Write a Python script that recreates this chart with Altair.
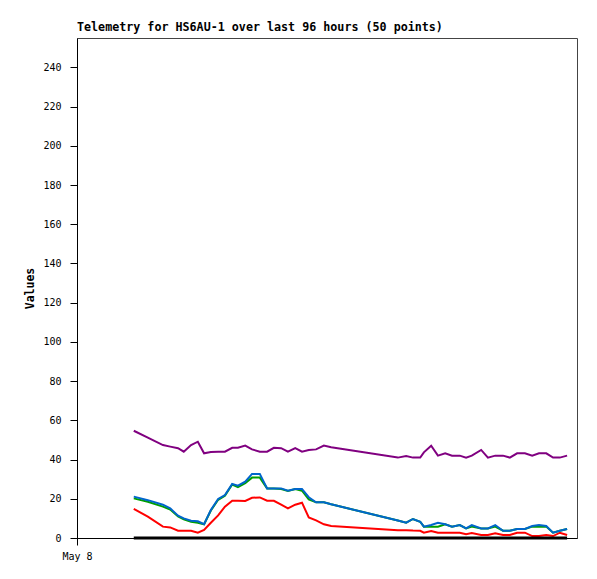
import altair as alt
import pandas as pd

# hours since May 8 00:00
hours = [10.9, 13.6, 16.5, 17.9, 19.4, 20.5, 21.9, 23.2, 24.4, 25.7, 27.1, 28.4, 29.8,
         30.9, 32.3, 33.6, 35.1, 36.5, 37.8, 39.2, 40.5, 41.9, 43.2, 44.5, 45.9, 47.4,
         48.8, 61.6, 63.2, 64.5, 65.9, 66.6, 68.0, 69.3, 70.7, 72.0, 73.5, 74.7, 75.8,
         77.6, 78.9, 80.3, 81.8, 83.1, 84.5, 86.0, 87.4, 88.7, 90.1, 91.4, 92.7, 94.1]

purple = [54.7, 51.2, 47.4, 46.6, 45.8, 44.0, 47.4, 49.1, 43.2, 43.8, 44.0, 44.0, 46.0,
          46.0, 47.1, 45.2, 44.0, 44.0, 46.0, 45.8, 44.0, 45.8, 44.0, 44.9, 45.2, 47.1,
          46.3, 41.0, 41.8, 41.0, 41.0, 43.7, 47.1, 42.0, 43.2, 42.0, 42.0, 41.0, 42.0,
          44.9, 41.0, 42.0, 42.0, 41.0, 43.2, 43.2, 42.0, 43.2, 43.2, 41.0, 41.0, 42.0]

red = [14.8, 10.9, 5.8, 5.4, 3.7, 3.7, 3.7, 2.7, 4.1, 7.8, 11.5, 16.0, 19.0,
       19.0, 18.9, 20.5, 20.7, 19.0, 19.0, 17.0, 15.1, 17.0, 18.0, 10.5, 9.0, 7.0,
       6.1, 4.0, 4.0, 3.8, 3.7, 2.7, 3.6, 2.7, 2.7, 2.7, 2.7, 1.9, 2.5,
       1.5, 1.5, 2.4, 1.5, 1.5, 2.7, 2.7, 1.0, 1.0, 1.5, 1.0, 2.7, 1.5]

green = [20.2, 18.5, 16.0, 14.5, 11.0, 9.5, 8.3, 7.8, 7.0, 14.0, 19.5, 21.5, 27.3,
         26.0, 28.0, 30.8, 30.8, 25.3, 25.3, 25.0, 24.0, 25.0, 24.1, 19.7, 18.2, 18.2,
         17.2, 8.9, 7.8, 9.7, 8.3, 5.8, 5.8, 5.8, 7.0, 5.8, 6.6, 4.9, 5.8,
         4.9, 4.9, 5.8, 3.7, 3.7, 4.6, 4.6, 5.8, 5.8, 5.8, 2.7, 3.7, 4.6]

blue = [21.1, 19.3, 17.0, 15.1, 11.4, 10.0, 8.8, 8.5, 7.0, 14.3, 19.9, 21.9, 27.6,
        26.7, 28.7, 32.7, 32.7, 25.3, 25.3, 25.3, 24.1, 25.0, 25.0, 20.8, 18.2, 18.2,
        17.2, 8.9, 7.8, 9.7, 8.3, 5.8, 6.6, 7.8, 7.0, 5.8, 6.6, 4.9, 6.6,
        4.9, 4.9, 6.6, 3.7, 3.7, 4.6, 4.6, 6.1, 6.6, 6.1, 2.7, 3.7, 4.6]

black = [0.0] * len(hours)

y_ticks = [0, 20, 40, 60, 80, 100, 120, 140, 160, 180, 200, 220, 240]
x_ticks = [0]
x_tick_label = "May 8"

df = pd.DataFrame({"hours": hours, "purple": purple, "red": red, "green": green,
                   "blue": blue, "black": black})

FONT = "DejaVu Sans Mono"

x_enc = alt.X("hours:Q",
              scale=alt.Scale(domain=[0, 96], nice=False, zero=False),
              axis=alt.Axis(values=x_ticks, labelExpr=f"'{x_tick_label}'", title=None,
                            tickSize=7, labelPadding=6, grid=False, labelFlush=False,
                            domainColor="black", tickColor="black",
                            labelFont=FONT, labelFontSize=10, labelColor="black"))

y_scale = alt.Scale(domain=[0, 255], nice=False)
y_axis = alt.Axis(values=y_ticks, title="Values", tickSize=7, labelPadding=9, grid=False,
                  domainColor="black", tickColor="black",
                  labelFont=FONT, labelFontSize=10, labelColor="black",
                  titleFont=FONT, titleFontSize=11.5, titleFontWeight="bold",
                  titleColor="black", titlePadding=7)

colors = [("purple", "#800080", 2), ("red", "#ff0000", 2), ("green", "#00a000", 2),
          ("blue", "#0066cc", 2), ("black", "#000000", 3)]

layers = []
for col, hexc, sw in colors:
    layers.append(
        alt.Chart(df).mark_line(color=hexc, strokeWidth=sw).encode(
            x=x_enc,
            y=alt.Y(f"{col}:Q", scale=y_scale, axis=y_axis),
        )
    )

chart = alt.layer(*layers).properties(
    width=500,
    height=500,
    title=alt.TitleParams("Telemetry for HS6AU-1 over last 96 hours (50 points)",
                          anchor="start", frame="group", font=FONT, fontSize=11.7,
                          fontWeight="bold", color="black", offset=4),
    autosize=alt.AutoSizeParams(type="none"),
    padding={"left": 69, "top": 30, "right": 10, "bottom": 30},
    background="white",
).configure_view(stroke="#444444", strokeWidth=1)

chart.save("out.html", embed_options={"renderer": "svg", "actions": False})
